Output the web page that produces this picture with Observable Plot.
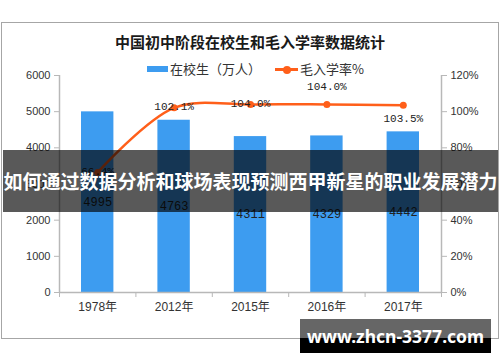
<!DOCTYPE html>
<html><head><meta charset="utf-8">
<script src="https://cdn.jsdelivr.net/npm/d3@7"></script>
<script src="https://cdn.jsdelivr.net/npm/@observablehq/plot@0.6"></script>
<style>
html,body{margin:0;padding:0;background:#fff;}
#wrap{position:relative;width:500px;height:362px;overflow:hidden;font-family:"Noto Sans CJK SC","Noto Sans",sans-serif;}
#chart svg{position:absolute;left:0;top:0;}
.border{position:absolute;left:1px;top:22px;width:498px;height:317px;border:1px solid #a6a6a6;box-sizing:border-box;}
.title{position:absolute;left:0;top:31px;width:500px;text-align:center;font-size:15px;font-weight:bold;line-height:22px;color:#1a1a1a;}
.lg-text{position:absolute;top:59px;font-size:13px;line-height:20px;color:#333;}
.banner{position:absolute;left:3px;top:150px;width:495px;height:62px;background:rgba(0,0,0,0.65);color:#fff;font-size:19px;font-weight:bold;line-height:62px;text-align:center;white-space:nowrap;}
.site{position:absolute;left:300px;top:319px;width:191px;height:34px;background:linear-gradient(#666 0,#666 19px,#000 19px,#000 100%);color:#fff;font-family:"Noto Sans","DejaVu Sans",sans-serif;font-size:17.5px;font-weight:bold;line-height:34px;text-align:center;}
</style>
</head><body>
<div id="wrap">
  <div class="border"></div>
  <div id="chart"></div>
  <div class="title" id="title"></div>
  <div id="legend"></div>
  <div class="banner" id="banner"></div>
  <div class="site" id="site"></div>
</div>
<script>
const titleText = "中国初中阶段在校生和毛入学率数据统计";
const years = ["1978年", "2012年", "2015年", "2016年", "2017年"];
const students = [4995, 4763, 4311, 4329, 4442];       // 在校生（万人）
const rates = [66.4, 102.1, 104.0, 104.0, 103.5];        // 毛入学率%
const seriesNames = ["在校生（万人）", "毛入学率%"];
const leftTicks = [0, 1000, 2000, 3000, 4000, 5000, 6000];
const rightTicks = ["0%", "20%", "40%", "60%", "80%", "100%", "120%"];
const bannerText = "如何通过数据分析和球场表现预测西甲新星的职业发展潜力";
const siteText = "www.zhcn-3377.com";

const barColor = "#3d9cf0";
const lineColor = "#ff5f1a";
const axisGray = "#b8b8b8";
const labelPlacement = ["on", "on", "on", "above", "below"];

const rows = years.map((y, i) => ({i, year: y, students: students[i], rate: rates[i], place: labelPlacement[i]}));
const rateToY = 6000 / 120;

const monoFont = "Liberation Mono, DejaVu Sans Mono, monospace";

const chart = Plot.plot({
  width: 500,
  height: 362,
  marginLeft: 59,
  marginRight: 59,
  marginTop: 75,
  marginBottom: 70,
  style: {fontFamily: "Liberation Sans, Noto Sans CJK SC, sans-serif", fontSize: "11px", background: "transparent", color: "#333"},
  x: {type: "linear", domain: [0, years.length]},
  y: {domain: [0, 6000]},
  marks: [
    Plot.rectY(rows, {x1: "i", x2: d => d.i + 1, y: "students", fill: barColor, insetLeft: 22, insetRight: 22}),
    Plot.ruleY([0], {stroke: axisGray, strokeWidth: 1.5}),
    Plot.ruleX([0, years.length], {stroke: axisGray, strokeWidth: 1.5}),
    Plot.axisY({anchor: "left", ticks: leftTicks, tickSize: 5, tickPadding: 4, stroke: axisGray, fill: "#333", tickFormat: d => String(d), label: null, fontSize: 11}),
    Plot.axisY({anchor: "right", ticks: leftTicks, tickSize: 5, tickPadding: 4, stroke: axisGray, fill: "#333", tickFormat: d => rightTicks[leftTicks.indexOf(d)], label: null, fontSize: 11}),
    Plot.axisX({anchor: "bottom", ticks: d3.range(0, years.length + 1), tickSize: 5, stroke: axisGray, tickFormat: () => "", label: null}),
    Plot.axisX({anchor: "bottom", ticks: d3.range(years.length).map(i => i + 0.5), tickSize: 0, tickPadding: 10, fill: "#333", tickFormat: d => years[Math.floor(d)], label: null, fontSize: 12}),
    Plot.text(rows, {x: d => d.i + 0.5, y: d => d.students / 2, text: d => String(d.students), fill: "#222", fontSize: 12, fontFamily: monoFont}),
    Plot.line(rows, {x: d => d.i + 0.5, y: d => d.rate * rateToY, stroke: lineColor, strokeWidth: 2.5, curve: "catmull-rom"}),
    Plot.dot(rows, {x: d => d.i + 0.5, y: d => d.rate * rateToY, r: 3.5, fill: lineColor}),
    Plot.text(rows.filter(d => d.place === "on"), {x: d => d.i + 0.5, y: d => d.rate * rateToY, text: d => d.rate.toFixed(1) + "%", dy: -1, fill: "#222", fontSize: 11, fontFamily: monoFont}),
    Plot.text(rows.filter(d => d.place === "above"), {x: d => d.i + 0.5, y: d => d.rate * rateToY, text: d => d.rate.toFixed(1) + "%", dy: -18, fill: "#222", fontSize: 11, fontFamily: monoFont}),
    Plot.text(rows.filter(d => d.place === "below"), {x: d => d.i + 0.5, y: d => d.rate * rateToY, text: d => d.rate.toFixed(1) + "%", dy: 13, fill: "#222", fontSize: 11, fontFamily: monoFont})
  ]
});
document.getElementById("chart").appendChild(chart);

document.getElementById("title").textContent = titleText;
document.getElementById("banner").textContent = bannerText;
document.getElementById("site").textContent = siteText;

const lg = document.getElementById("legend");
lg.innerHTML = `
  <div style="position:absolute;left:147px;top:66px;width:21px;height:6px;background:${barColor}"></div>
  <div class="lg-text" style="left:170px">${seriesNames[0]}</div>
  <div style="position:absolute;left:275px;top:68px;width:23px;height:2.5px;background:${lineColor}"></div>
  <div style="position:absolute;left:283px;top:65.5px;width:8px;height:8px;border-radius:50%;background:${lineColor}"></div>
  <div class="lg-text" style="left:300px">${seriesNames[1]}</div>`;
</script>
</body></html>
